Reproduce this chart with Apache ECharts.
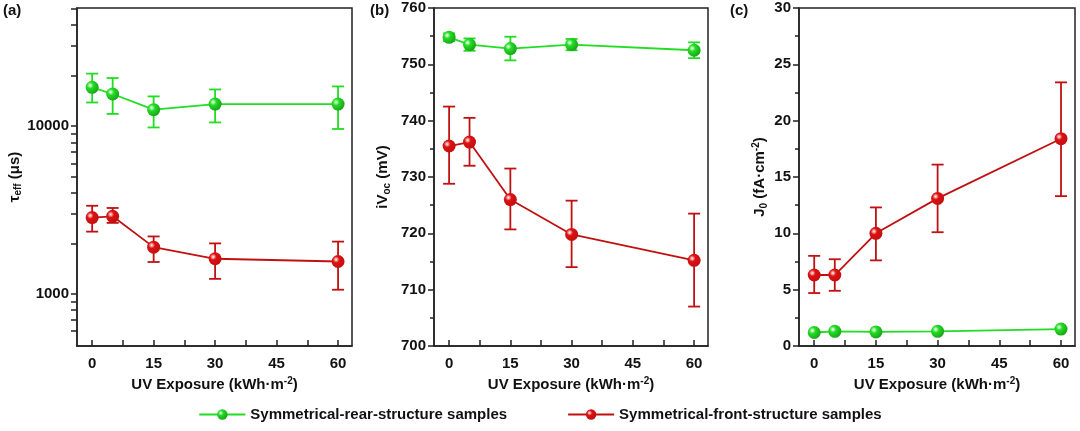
<!DOCTYPE html><html><head><meta charset="utf-8"><script src="https://cdn.jsdelivr.net/npm/echarts@6/dist/echarts.min.js"></script></head><body style="margin:0"><div id="c" style="width:1080px;height:431px"></div><script>
const xs=[0,5,15,30,60];
const aGreen=[17000,15500,12500,13500,13500], aGreenHi=[20500,19300,15000,16500,17200], aGreenLo=[13800,11800,9800,10500,9600];
const aRed=[2850,2900,1900,1620,1560], aRedHi=[3350,3250,2200,2000,2050], aRedLo=[2350,2650,1550,1230,1060];
const bGreen=[754.8,753.5,752.8,753.5,752.5], bGreenHi=[755.5,754.6,754.9,754.5,753.9], bGreenLo=[754.1,752.4,750.7,752.5,751.1];
const bRed=[735.5,736.2,726,719.8,715.2], bRedHi=[742.5,740.5,731.5,725.8,723.5], bRedLo=[728.8,732,720.7,714,707];
const cGreen=[1.2,1.3,1.25,1.3,1.5];
const cRed=[6.3,6.3,10,13.1,18.4], cRedHi=[8,7.7,12.3,16.1,23.4], cRedLo=[4.7,4.9,7.6,10.1,13.3];
const xLabels=[0,15,30,45,60];
const names=['Symmetrical-rear-structure samples','Symmetrical-front-structure samples'];
const G='#22dd22', R='#dd1111', GD='#1aa01a', RD='#c01010';
function grad(c,d){return {type:'radial',x:0.35,y:0.35,r:0.7,colorStops:[{offset:0,color:'#fff'},{offset:0.35,color:c},{offset:1,color:d}]};}
const F='Liberation Sans, Arial';
const grids=[{left:77,width:275},{left:434,width:274},{left:799,width:276}].map(g=>Object.assign(g,{top:8,bottom:85,show:true,borderColor:'#222',borderWidth:1.5,backgroundColor:'transparent'}));
const xAxes=grids.map((g,i)=>({type:'value',gridIndex:i,min:-3.7,max:63.4,name:'UV Exposure (kWh·m{s|-2})',nameLocation:'middle',nameGap:30,
 nameTextStyle:{fontFamily:F,fontWeight:'bold',fontSize:15,color:'#111',rich:{s:{fontSize:10,fontWeight:'bold',verticalAlign:'top',padding:[0,0,8,0]}}},
 axisLine:{onZero:false,lineStyle:{color:'#222',width:1.5}},splitLine:{show:false},
 axisTick:{inside:true,length:6,customValues:[0,7.5,15,22.5,30,37.5,45,52.5,60],lineStyle:{color:'#222',width:1.5}},
 axisLabel:{customValues:xLabels,fontFamily:F,fontWeight:'bold',fontSize:15,color:'#111',margin:10}}));
const yBase={axisLine:{show:true,onZero:false,lineStyle:{color:'#222',width:1.5}},splitLine:{show:false},nameLocation:'middle',
 axisLabel:{fontFamily:F,fontWeight:'bold',fontSize:15,color:'#111'},
 nameTextStyle:{fontFamily:F,fontWeight:'bold',fontSize:15,color:'#111',rich:{b:{fontSize:10,fontWeight:'bold',verticalAlign:'bottom',padding:[8,0,0,0]},s:{fontSize:10,fontWeight:'bold',verticalAlign:'top',padding:[0,0,8,0]}}}};
const logTicks=[600,700,800,900,1000,2000,3000,4000,5000,6000,7000,8000,9000,10000,20000,30000,40000,50000];
const yAxes=[
 Object.assign({},yBase,{type:'log',gridIndex:0,min:490,max:50400,name:'τ{b|eff} (μs)',nameGap:48,
  axisTick:{length:6,customValues:logTicks,lineStyle:{color:'#222',width:1.5}},axisLabel:Object.assign({},yBase.axisLabel,{customValues:[1000,10000],formatter:v=>String(Math.round(v))})}),
 Object.assign({},yBase,{type:'value',gridIndex:1,min:700,max:760,interval:10,name:'iV{b|oc} (mV)',nameGap:42,
  axisTick:{length:6,lineStyle:{color:'#222',width:1.5}},minorTick:{show:true,splitNumber:2,length:4,lineStyle:{color:'#222',width:1.5}}}),
 Object.assign({},yBase,{type:'value',gridIndex:2,min:0,max:30,interval:5,name:'J{b|0} (fA·cm{s|-2})',nameGap:30,
  axisTick:{length:6,lineStyle:{color:'#222',width:1.5}},minorTick:{show:true,splitNumber:2,length:4,lineStyle:{color:'#222',width:1.5}}})];
function line(name,vals,i,c,d,lc){return {name,type:'line',xAxisIndex:i,yAxisIndex:i,data:xs.map((x,k)=>[x,vals[k]]),symbol:'circle',symbolSize:13,
 lineStyle:{color:lc,width:1.8},itemStyle:{color:grad(c,d),borderWidth:0},z:3};}
function err(lo,hi,i,c){return {type:'custom',xAxisIndex:i,yAxisIndex:i,data:xs.map((x,k)=>[x,lo[k],hi[k]]),z:2,silent:true,
 renderItem:(p,api)=>{const a=api.coord([api.value(0),api.value(1)]),b=api.coord([api.value(0),api.value(2)]);const w=6;
 const st={stroke:c,lineWidth:1.8};return {type:'group',children:[
 {type:'line',shape:{x1:a[0],y1:a[1],x2:b[0],y2:b[1]},style:st},
 {type:'line',shape:{x1:a[0]-w,y1:a[1],x2:a[0]+w,y2:a[1]},style:st},
 {type:'line',shape:{x1:b[0]-w,y1:b[1],x2:b[0]+w,y2:b[1]},style:st}]};}};}
const series=[
 line(names[0],aGreen,0,G,GD,G),line(names[1],aRed,0,R,RD,RD),err(aGreenLo,aGreenHi,0,G),err(aRedLo,aRedHi,0,RD),
 line(names[0],bGreen,1,G,GD,G),line(names[1],bRed,1,R,RD,RD),err(bGreenLo,bGreenHi,1,G),err(bRedLo,bRedHi,1,RD),
 line(names[0],cGreen,2,G,GD,G),line(names[1],cRed,2,R,RD,RD),err(cRedLo,cRedHi,2,RD)];
const ch=echarts.init(document.getElementById('c'));
ch.setOption({animation:false,grid:grids,xAxis:xAxes,yAxis:yAxes,series,
 legend:{data:names,bottom:4,left:'center',itemWidth:46,itemHeight:13,itemGap:60,textStyle:{fontFamily:F,fontWeight:'bold',fontSize:15,color:'#111'}},
 graphic:[['(a)',3],['(b)',370],['(c)',730]].map(([t,x])=>({type:'text',left:x,top:3,style:{text:t,font:'bold 15px Liberation Sans, Arial',fill:'#111'}}))});
</script></body></html>
